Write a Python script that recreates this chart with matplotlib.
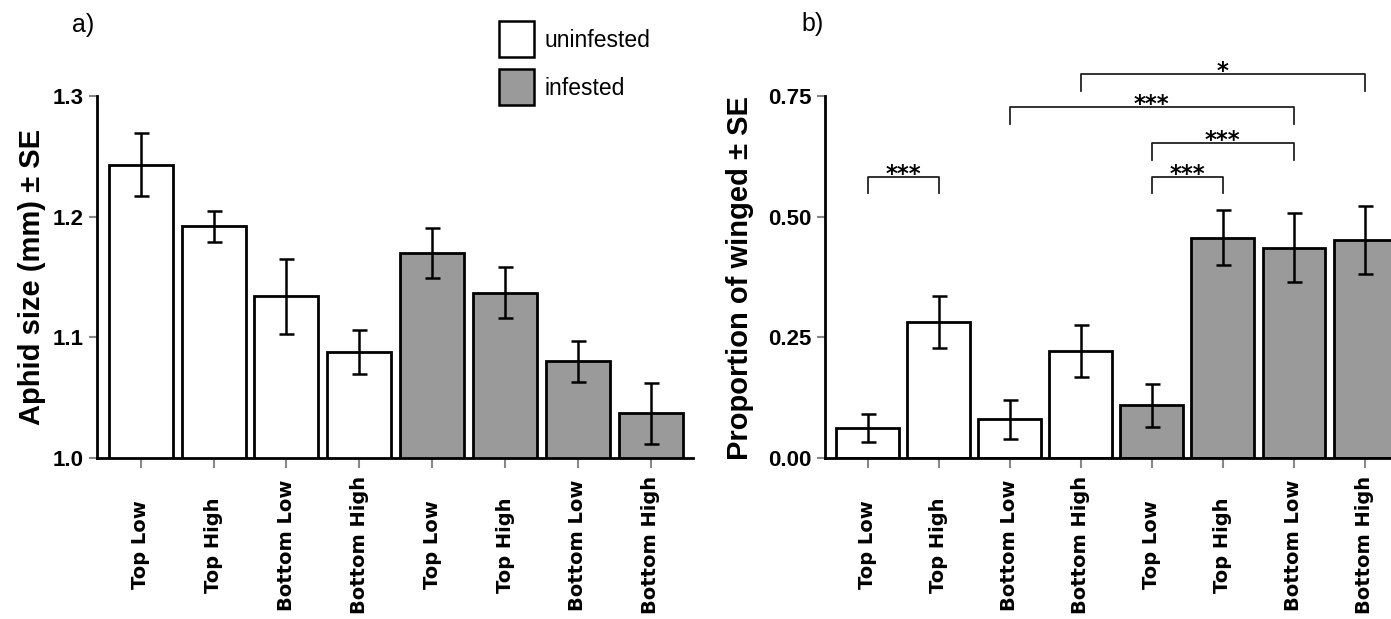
import numpy as np
import matplotlib
matplotlib.use("Agg")
import matplotlib.pyplot as plt
from matplotlib.patches import Rectangle

# x categories (same order in both panels)
groups = ["Top Low", "Top High", "Bottom Low", "Bottom High",
          "Top Low", "Top High", "Bottom Low", "Bottom High"]
treatment = ["uninfested"] * 4 + ["infested"] * 4

# a) aphid size (mm), mean and SE
size_mean = [1.243, 1.192, 1.134, 1.088, 1.170, 1.137, 1.080, 1.037]
size_se = [0.026, 0.013, 0.031, 0.018, 0.021, 0.021, 0.017, 0.025]

# b) proportion of winged, mean and SE
winged_mean = [0.062, 0.282, 0.080, 0.221, 0.109, 0.456, 0.436, 0.452]
winged_se = [0.029, 0.054, 0.041, 0.054, 0.045, 0.057, 0.072, 0.070]

# significance brackets in b): (bar i, bar j, bracket height, label)
sig_i = [0, 4, 4, 2, 3]
sig_j = [1, 5, 6, 6, 7]
sig_y = [0.583, 0.583, 0.652, 0.728, 0.796]
sig_lab = ["***", "***", "***", "***", "*"]

colors = {"uninfested": "white", "infested": "#9a9a9a"}
FONT = ["Liberation Sans", "DejaVu Sans"]

W, H = 1391, 619
fig = plt.figure(figsize=(W / 100, H / 100), dpi=100)
ax1 = fig.add_axes([97 / W, 161 / H, 596 / W, 362 / H])
ax2 = fig.add_axes([825 / W, 161 / H, 581 / W, 362 / H])


def bar_panel(ax, mean, se, ylim, yticks, ytlabels):
    x = np.arange(len(mean))
    fc = [colors[t] for t in treatment]
    ax.bar(x, mean, width=0.88, bottom=0, color=fc, edgecolor="black",
           linewidth=2.0, zorder=2)
    ax.errorbar(x, mean, yerr=se, fmt="none", ecolor="black",
                elinewidth=1.8, capsize=5.4, capthick=1.8, zorder=3)
    ax.set_xlim(-0.6, 7.58)
    ax.set_ylim(*ylim)
    ax.set_yticks(yticks)
    ax.set_yticklabels(ytlabels, fontfamily=FONT, fontweight="bold",
                       fontsize=16)
    ax.set_xticks(x)
    ax.set_xticklabels(groups, fontfamily="DejaVu Sans", fontweight="bold",
                       fontsize=14, rotation=90, va="center", ha="center")
    for s in ["top", "right"]:
        ax.spines[s].set_visible(False)
    for s in ["left", "bottom"]:
        ax.spines[s].set_linewidth(2.0)
    ax.tick_params(axis="x", length=7, width=1.5, color="#888888", pad=55.6)
    ax.tick_params(axis="y", length=5.5, width=1.5, color="#888888", pad=4)


bar_panel(ax1, size_mean, size_se, (1.0, 1.3), [1.0, 1.1, 1.2, 1.3],
          ["1.0", "1.1", "1.2", "1.3"])
bar_panel(ax2, winged_mean, winged_se, (0.0, 0.75), [0, 0.25, 0.5, 0.75],
          ["0.00", "0.25", "0.50", "0.75"])

# y labels
fig.text(32 / W, 1 - 277 / H, "Aphid size (mm) ± SE", rotation=90,
         ha="center", va="center", fontfamily=FONT, fontweight="bold",
         fontsize=21)
fig.text(740 / W, 1 - 278 / H, "Proportion of winged ± SE", rotation=90,
         ha="center", va="center", fontfamily=FONT, fontweight="bold",
         fontsize=21)

# panel letters
fig.text(94 / W, 1 - 25 / H, "a)", ha="right", va="center",
         fontfamily=FONT, fontsize=18)
fig.text(824 / W, 1 - 24 / H, "b)", ha="right", va="center",
         fontfamily=FONT, fontsize=18)

# significance brackets
drop = 0.035
for i, j, y, lab in zip(sig_i, sig_j, sig_y, sig_lab):
    ax2.plot([i, i, j, j], [y - drop, y, y, y - drop], color="#222222",
             linewidth=1.3, clip_on=False, zorder=4)
    ax2.annotate(lab, xy=((i + j) / 2, y), xytext=(0, -3.0),
                 textcoords="offset points", ha="center", va="baseline",
                 fontfamily="DejaVu Sans", fontweight="bold", fontsize=16.5,
                 annotation_clip=False)

# legend (two boxes with labels, top middle of panel a)
for k, t in enumerate(["uninfested", "infested"]):
    top = 21 + 48 * k
    fig.patches.append(Rectangle((499 / W, 1 - (top + 36) / H), 35 / W,
                                 36 / H, transform=fig.transFigure,
                                 facecolor=colors[t], edgecolor="black",
                                 linewidth=1.8))
    fig.text(545 / W, 1 - (top + 26) / H, t, ha="left", va="baseline",
             fontfamily=FONT, fontsize=16.5)

fig.savefig("out.png", dpi=100)
